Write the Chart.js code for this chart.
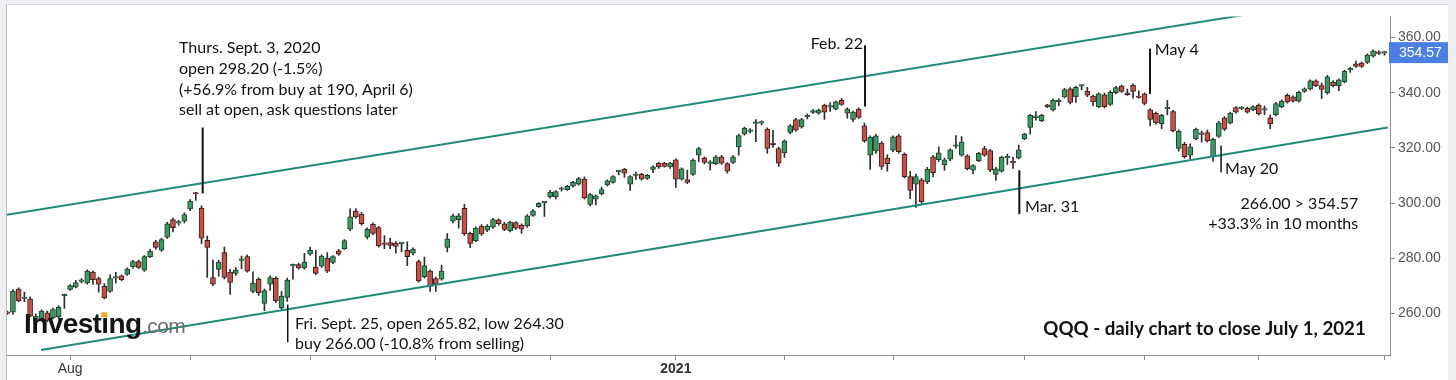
<!DOCTYPE html>
<html><head><meta charset="utf-8">
<script src="https://cdn.jsdelivr.net/npm/chart.js@4.4.1/dist/chart.umd.min.js"></script>
<style>
html,body{margin:0;padding:0;background:#eceef1;width:1456px;height:380px;overflow:hidden}
#wrap{position:absolute;left:6px;top:4px;width:1441px;height:375px;background:#fff;border-left:1px solid #b9bcc0;border-top:1px solid #d6d9dd}
</style></head><body><div id="wrap"><canvas id="c"></canvas></div>
<script>
// ---- DATA (QQQ daily, Jul 17 2020 - Jul 1 2021) ----
const dates = [
 '2020-07-17','2020-07-20','2020-07-21','2020-07-22','2020-07-23','2020-07-24','2020-07-27','2020-07-28','2020-07-29','2020-07-30','2020-07-31',
 '2020-08-03','2020-08-04','2020-08-05','2020-08-06','2020-08-07','2020-08-10','2020-08-11','2020-08-12','2020-08-13','2020-08-14','2020-08-17','2020-08-18','2020-08-19','2020-08-20','2020-08-21','2020-08-24','2020-08-25','2020-08-26','2020-08-27','2020-08-28','2020-08-31',
 '2020-09-01','2020-09-02','2020-09-03','2020-09-04','2020-09-08','2020-09-09','2020-09-10','2020-09-11','2020-09-14','2020-09-15','2020-09-16','2020-09-17','2020-09-18','2020-09-21','2020-09-22','2020-09-23','2020-09-24','2020-09-25','2020-09-28','2020-09-29','2020-09-30',
 '2020-10-01','2020-10-02','2020-10-05','2020-10-06','2020-10-07','2020-10-08','2020-10-09','2020-10-12','2020-10-13','2020-10-14','2020-10-15','2020-10-16','2020-10-19','2020-10-20','2020-10-21','2020-10-22','2020-10-23','2020-10-26','2020-10-27','2020-10-28','2020-10-29','2020-10-30',
 '2020-11-02','2020-11-03','2020-11-04','2020-11-05','2020-11-06','2020-11-09','2020-11-10','2020-11-11','2020-11-12','2020-11-13','2020-11-16','2020-11-17','2020-11-18','2020-11-19','2020-11-20','2020-11-23','2020-11-24','2020-11-25','2020-11-27','2020-11-30',
 '2020-12-01','2020-12-02','2020-12-03','2020-12-04','2020-12-07','2020-12-08','2020-12-09','2020-12-10','2020-12-11','2020-12-14','2020-12-15','2020-12-16','2020-12-17','2020-12-18','2020-12-21','2020-12-22','2020-12-23','2020-12-24','2020-12-28','2020-12-29','2020-12-30','2020-12-31',
 '2021-01-04','2021-01-05','2021-01-06','2021-01-07','2021-01-08','2021-01-11','2021-01-12','2021-01-13','2021-01-14','2021-01-15','2021-01-19','2021-01-20','2021-01-21','2021-01-22','2021-01-25','2021-01-26','2021-01-27','2021-01-28','2021-01-29',
 '2021-02-01','2021-02-02','2021-02-03','2021-02-04','2021-02-05','2021-02-08','2021-02-09','2021-02-10','2021-02-11','2021-02-12','2021-02-16','2021-02-17','2021-02-18','2021-02-19','2021-02-22','2021-02-23','2021-02-24','2021-02-25','2021-02-26',
 '2021-03-01','2021-03-02','2021-03-03','2021-03-04','2021-03-05','2021-03-08','2021-03-09','2021-03-10','2021-03-11','2021-03-12','2021-03-15','2021-03-16','2021-03-17','2021-03-18','2021-03-19','2021-03-22','2021-03-23','2021-03-24','2021-03-25','2021-03-26','2021-03-29','2021-03-30','2021-03-31',
 '2021-04-01','2021-04-05','2021-04-06','2021-04-07','2021-04-08','2021-04-09','2021-04-12','2021-04-13','2021-04-14','2021-04-15','2021-04-16','2021-04-19','2021-04-20','2021-04-21','2021-04-22','2021-04-23','2021-04-26','2021-04-27','2021-04-28','2021-04-29','2021-04-30',
 '2021-05-03','2021-05-04','2021-05-05','2021-05-06','2021-05-07','2021-05-10','2021-05-11','2021-05-12','2021-05-13','2021-05-14','2021-05-17','2021-05-18','2021-05-19','2021-05-20','2021-05-21','2021-05-24','2021-05-25','2021-05-26','2021-05-27','2021-05-28',
 '2021-06-01','2021-06-02','2021-06-03','2021-06-04','2021-06-07','2021-06-08','2021-06-09','2021-06-10','2021-06-11','2021-06-14','2021-06-15','2021-06-16','2021-06-17','2021-06-18','2021-06-21','2021-06-22','2021-06-23','2021-06-24','2021-06-25','2021-06-28','2021-06-29','2021-06-30',
 '2021-07-01'
];
const opens = [
 260.4,260.4,268.8,265.4,265.3,257.2,258.2,260.2,258.4,258.8,266.4,
 268.7,269.5,271.6,271.0,275.0,272.6,269.8,268.0,272.8,273.6,274.1,276.8,278.8,275.7,280.6,285.9,282.9,287.6,294.0,292.7,293.4,
 297.9,303.5,298.2,286.5,273.0,275.9,282.0,275.0,274.5,279.2,280.6,268.0,272.4,263.6,270.6,272.7,262.1,265.82,277.2,277.7,276.5,
 281.5,276.8,277.1,280.0,278.5,282.7,283.5,290.5,297.1,296.0,287.6,292.3,291.1,285.2,285.7,285.5,285.3,282.9,281.8,278.8,273.3,275.3,
 272.6,272.4,283.9,293.4,294.0,298.1,289.0,286.4,291.7,290.2,291.3,293.9,292.5,289.9,292.9,292.0,291.7,295.5,298.7,300.1,
 302.2,302.2,305.0,304.9,306.1,306.9,308.7,299.5,301.4,303.4,306.6,307.5,311.4,312.2,306.9,310.0,310.4,308.9,312.2,314.5,314.5,313.1,
 315.7,308.7,308.5,310.4,317.4,316.3,314.4,314.3,316.8,314.3,314.7,320.4,325.0,326.0,328.9,329.0,326.8,321.8,319.8,
 318.2,325.6,330.3,327.6,331.3,332.9,332.6,335.5,334.8,334.1,337.3,332.6,330.3,334.1,328.0,317.4,318.9,321.8,316.3,
 319.2,324.4,317.7,309.6,306.9,308.4,307.7,316.8,315.7,313.9,315.9,320.6,317.4,317.1,311.9,315.4,319.8,319.0,310.4,311.6,316.4,315.0,316.3,
 323.3,327.4,331.0,329.9,335.6,333.8,336.8,338.5,341.4,338.5,342.4,340.5,338.8,335.0,339.3,335.8,340.0,342.4,340.0,342.8,338.6,
 339.6,333.8,332.6,328.8,334.2,333.2,319.8,321.3,317.4,323.3,325.2,325.6,316.8,324.2,330.9,329.1,334.6,334.3,334.4,333.8,
 335.5,333.7,330.9,332.0,335.0,339.1,338.5,337.0,340.5,341.4,344.3,342.6,340.0,343.9,342.6,344.0,348.3,350.5,350.8,351.0,353.3,354.8,
 354.4
];
const highs = [
 260.8,268.6,269.3,267.7,266.0,259.8,261.3,260.8,261.9,262.8,267.0,
 270.4,272.0,272.6,275.8,275.4,273.2,270.8,274.1,274.9,274.0,276.5,279.2,279.3,281.0,283.2,286.5,287.2,293.0,294.6,293.7,296.5,
 301.3,303.9,299.0,288.0,279.3,279.2,284.0,276.0,276.6,280.8,281.2,275.1,273.0,268.8,273.6,273.3,268.0,272.8,277.9,278.2,281.8,
 284.0,282.9,281.2,282.0,281.0,283.2,286.8,297.9,298.0,296.6,291.0,292.8,291.6,288.2,287.3,286.0,285.7,285.9,283.8,279.3,280.4,275.8,
 273.2,277.5,288.9,296.0,296.2,299.5,289.5,291.4,292.2,292.2,294.5,294.3,293.0,293.5,293.3,292.5,295.8,297.6,300.2,300.6,
 304.6,304.5,305.8,306.4,307.9,309.3,309.5,303.5,303.0,305.8,308.4,310.0,311.8,312.6,310.0,311.2,310.8,310.4,313.5,314.8,314.8,314.9,
 316.0,312.8,312.0,316.0,320.2,316.8,315.4,317.2,317.3,314.7,317.2,325.0,327.6,327.0,330.3,329.8,327.3,326.4,320.3,
 322.9,328.5,330.7,330.7,332.4,333.9,334.1,335.9,336.4,337.0,338.0,334.5,333.4,334.5,329.0,324.4,324.9,322.3,317.5,
 324.4,324.9,318.2,311.5,310.5,309.0,313.0,317.3,320.4,316.3,319.7,324.5,324.1,317.6,314.0,318.4,320.6,319.5,313.0,317.0,317.8,316.7,321.0,
 325.4,332.2,333.2,332.2,335.8,337.7,337.8,341.6,341.9,342.4,342.9,342.0,339.2,340.0,339.9,340.7,342.3,342.8,341.3,343.2,340.7,
 340.0,334.2,333.0,332.2,337.3,333.6,326.6,322.0,321.5,327.2,326.2,326.5,323.6,329.6,331.4,333.0,335.0,335.0,334.8,335.3,
 336.0,335.2,332.0,336.5,337.4,339.6,338.9,340.6,341.8,344.7,344.7,343.5,346.3,344.4,345.1,348.2,349.2,351.5,351.2,354.1,355.6,355.2,
 355.0
];
const lows = [
 259.6,259.6,264.2,264.2,258.8,255.3,257.6,256.9,258.0,257.9,261.8,
 268.3,269.2,271.0,270.6,270.5,267.7,265.2,267.6,271.0,271.8,273.8,276.3,276.2,275.2,280.2,283.3,282.5,287.2,289.5,292.0,292.8,
 297.2,301.0,285.3,273.0,270.0,273.5,272.5,266.9,273.8,276.1,274.9,267.4,266.5,261.0,268.3,264.0,261.2,264.3,272.4,276.0,276.0,
 281.0,274.0,276.7,274.8,278.0,281.0,283.2,290.0,294.5,292.0,287.0,288.5,284.0,283.5,283.5,281.8,282.3,277.3,281.2,271.3,272.8,268.0,
 268.0,272.0,282.3,292.8,290.9,288.3,283.8,286.0,288.3,289.6,290.8,292.0,290.0,289.5,290.4,289.0,291.2,295.2,298.4,295.2,
 301.8,301.5,304.3,304.6,305.8,306.5,301.4,299.0,299.3,303.0,306.2,307.2,310.2,309.4,304.6,308.6,308.3,308.6,311.0,312.6,313.0,312.6,
 305.7,308.3,307.0,310.0,315.0,314.2,311.9,313.9,314.0,310.8,314.3,317.4,324.6,325.4,322.3,328.3,318.0,320.2,313.3,
 316.6,325.2,326.0,327.2,330.5,332.5,332.2,330.3,333.2,333.8,335.4,330.8,329.5,330.7,322.0,312.2,318.0,312.2,311.6,
 318.6,318.1,309.1,301.6,298.4,299.8,307.0,309.5,315.1,311.8,315.4,319.8,317.0,312.0,310.6,315.0,316.9,311.4,308.2,311.2,313.9,312.6,316.0,
 323.0,325.0,330.1,329.5,334.6,333.4,335.3,338.1,336.0,336.5,341.0,338.6,335.3,334.6,334.5,335.4,339.6,340.1,339.0,338.0,338.0,
 335.6,328.0,328.6,327.0,332.0,325.8,318.8,316.3,316.0,322.9,322.1,322.1,315.2,323.8,326.3,328.7,332.6,333.9,332.6,333.5,
 331.9,332.1,327.0,331.6,334.6,336.2,336.6,336.6,340.1,341.0,342.2,337.9,339.5,342.1,340.8,343.6,347.4,349.2,349.2,350.6,352.9,353.8,
 353.6
];
const closes = [
 260.0,268.1,264.6,265.9,259.0,259.0,260.8,257.4,261.4,262.2,266.8,
 270.1,271.2,272.0,275.3,272.2,270.6,265.6,272.6,273.2,272.2,276.1,278.8,276.7,280.6,282.6,283.9,286.8,292.5,291.1,293.1,295.8,
 300.7,303.3,287.3,283.9,270.6,278.6,273.0,271.2,275.7,279.6,275.3,271.0,267.5,268.3,273.0,264.6,266.3,272.1,277.7,276.5,278.6,
 282.9,274.5,280.8,275.3,280.6,281.5,286.4,295.0,295.0,292.5,290.5,289.0,284.5,285.0,284.6,284.3,285.6,280.6,283.3,271.8,277.3,269.8,
 270.6,275.3,287.0,295.4,295.4,288.9,285.4,290.9,288.8,291.7,294.0,292.5,290.4,293.1,290.9,290.5,295.4,297.2,299.9,300.4,
 304.0,304.2,305.2,306.1,307.5,308.9,301.9,303.1,302.6,304.9,308.1,309.6,311.7,310.8,309.6,310.2,308.7,310.1,313.1,313.1,313.3,314.5,
 308.7,312.4,307.5,315.6,319.8,314.7,314.6,316.8,314.5,311.6,316.8,324.5,327.2,326.3,329.2,329.3,319.8,321.2,314.5,
 322.5,328.0,326.4,330.3,331.6,333.5,333.7,333.0,335.1,336.7,335.8,334.1,333.0,331.1,322.5,323.9,324.4,313.3,314.3,
 324.0,318.6,309.6,304.6,309.6,300.5,312.2,311.0,318.2,315.7,319.3,321.0,322.1,312.4,313.6,318.0,317.4,311.9,312.4,316.6,316.8,314.6,319.3,
 325.0,331.8,331.3,331.8,334.9,337.3,337.2,341.2,336.5,342.0,342.7,339.1,336.7,339.6,335.0,340.2,341.9,340.5,339.3,340.5,338.3,
 336.1,330.3,329.1,331.8,334.6,326.2,326.0,316.8,320.4,326.8,324.9,322.5,323.1,329.1,326.8,332.6,333.0,334.6,333.0,335.0,
 332.3,334.0,328.8,336.1,337.0,336.7,337.0,340.2,341.4,344.3,342.6,341.2,345.8,342.6,344.7,347.8,348.6,349.6,349.6,353.7,355.2,354.3,
 354.57
];
const monthTickIdx = [11, 32, 53, 75, 95, 117, 136, 155, 178, 199, 219, 241];
const monthTickLabels = ['Aug', '', '', '', '', '2021', '', '', '', '', '', ''];
const yTicks = [260, 280, 300, 320, 340, 360];
const upperChannel = [{x: -0.04, y: 295.74}, {x: 216.6, y: 368.3}];
const lowerChannel = [{x: 5.92, y: 246.7}, {x: 241.6, y: 327.4}];
const lastPrice = 354.57;

// annotation anchors in data space (index, price)
const markers = [
  {i: 34.2, from: 303.5, to: 327.4, w: 2},
  {i: 49.08, from: 263.2, to: 249.5, w: 1.5},
  {i: 150.1, from: 335.0, to: 357.2, w: 2},
  {i: 177.1, from: 311.9, to: 296.0, w: 2},
  {i: 199.96, from: 339.6, to: 356.0, w: 2},
  {i: 212.4, from: 320.9, to: 311.2, w: 1.5}
];
const notes = [
  {i: 30.06, v: 354.3, lh: 20.7, align: 'left', bold: false, lines: ['Thurs. Sept. 3, 2020', 'open 298.20 (-1.5%)', '(+56.9% from buy at 190, April 6)', 'sell at open, ask questions later']},
  {i: 50.36, v: 254.4, lh: 20.5, align: 'left', bold: false, lines: ['Fri. Sept. 25, open 265.82, low 264.30', 'buy 266.00 (-10.8% from selling)']},
  {i: 140.6, v: 356.0, lh: 20, align: 'left', bold: false, lines: ['Feb. 22']},
  {i: 178.1, v: 296.7, lh: 20, align: 'left', bold: false, lines: ['Mar. 31']},
  {i: 200.8, v: 353.7, lh: 20, align: 'left', bold: false, lines: ['May 4']},
  {i: 213.1, v: 310.4, lh: 20, align: 'left', bold: false, lines: ['May 20']},
  {i: 236.4, v: 297.9, lh: 20, align: 'right', bold: false, lines: ['266.00 > 354.57', '+33.3% in 10 months']},
  {i: 181.3, v: 252.2, lh: 20, align: 'left', bold: true, lines: ['QQQ - daily chart to close July 1, 2021']}
];

// ---- CHART ----
const UP = '#3b9a63', DOWN = '#c5524a', UPB = '#1f3d2b', DOWNB = '#3e1b19';
const wickData = dates.map((d, i) => ({x: i, y: [lows[i], highs[i]]}));
const bodyData = dates.map((d, i) => ({x: i, y: [opens[i], closes[i]]}));
const isUp = i => closes[i] >= opens[i];
const AXIS = '#8c8c8c';
const FONT = '"Liberation Sans", Arial, sans-serif';
const NOTEFONT = 'Lato, "Open Sans", sans-serif';

const overlay = {
  id: 'overlay',
  afterDraw(chart) {
    const {ctx, scales: {x, y}, chartArea: ca} = chart;
    ctx.save();
    // marker lines
    ctx.strokeStyle = '#111';
    markers.forEach(m => {
      const px = x.getPixelForValue(m.i);
      ctx.lineWidth = m.w;
      ctx.beginPath();
      ctx.moveTo(px, y.getPixelForValue(m.from));
      ctx.lineTo(px, y.getPixelForValue(m.to));
      ctx.stroke();
    });
    // notes
    ctx.fillStyle = '#111';
    ctx.textBaseline = 'alphabetic';
    notes.forEach(n => {
      ctx.font = (n.bold ? 'bold 18.7px ' : '16px ') + NOTEFONT;
      ctx.textAlign = n.align;
      const px = x.getPixelForValue(n.i);
      const py = y.getPixelForValue(n.v);
      n.lines.forEach((t, k) => ctx.fillText(t, px, py + k * n.lh));
    });
    // Investing.com logo
    const lx = ca.left + 17, ly = ca.bottom - 21.7;
    ctx.textAlign = 'left';
    ctx.font = 'bold 28px ' + FONT;
    try { ctx.letterSpacing = '-0.6px'; } catch (e) {}
    ctx.fillStyle = '#141414';
    ctx.fillText('Investing', lx, ly);
    const wInv = ctx.measureText('Investing').width;
    const wPre = ctx.measureText('Invest').width;
    const wI = ctx.measureText('i').width;
    ctx.fillStyle = '#f5a623';
    ctx.fillRect(lx + wPre + wI / 2 - 3.5, ly - 21, 6, 5);
    ctx.font = '21px ' + FONT;
    try { ctx.letterSpacing = '-0.6px'; } catch (e) {}
    ctx.fillStyle = '#6b6b6b';
    ctx.fillText('.com', lx + wInv + 0.5, ly);
    try { ctx.letterSpacing = '0px'; } catch (e) {}
    // last price box
    const py = y.getPixelForValue(lastPrice);
    ctx.fillStyle = '#4b7fe3';
    ctx.fillRect(ca.right - 1, py - 10.5, chart.width - ca.right + 1, 21);
    ctx.fillStyle = '#ffffff';
    ctx.font = '14px ' + FONT;
    ctx.textBaseline = 'middle';
    ctx.fillText(lastPrice.toFixed(2), ca.right + 9, py + 0.5);
    ctx.restore();
  }
};

new Chart(document.getElementById('c'), {
  type: 'bar',
  data: {
    datasets: [
      {type: 'line', data: upperChannel, borderColor: '#1f8a7c', borderWidth: 2, pointRadius: 0, tension: 0, order: 0},
      {type: 'line', data: lowerChannel, borderColor: '#1f8a7c', borderWidth: 2, pointRadius: 0, tension: 0, order: 0},
      {type: 'bar', data: wickData, grouped: false, barThickness: 1, backgroundColor: '#2e2e2e', borderWidth: 0, order: 2},
      {type: 'bar', data: bodyData, grouped: false, barThickness: 5, minBarLength: 1.5,
        backgroundColor: c => isUp(c.dataIndex) ? UP : DOWN,
        borderColor: c => isUp(c.dataIndex) ? UPB : DOWNB,
        borderWidth: 1, borderSkipped: false, order: 1}
    ]
  },
  options: {
    responsive: true,
    maintainAspectRatio: false,
    animation: false,
    events: [],
    layout: {padding: 0},
    plugins: {legend: {display: false}, tooltip: {enabled: false}, title: {display: false}},
    scales: {
      x: {
        type: 'linear', min: -0.04, max: 241.96, offset: false,
        afterBuildTicks: s => { s.ticks = monthTickIdx.map(v => ({value: v})); },
        afterFit: s => { s.height = 25; },
        ticks: {
          autoSkip: false, maxRotation: 0, padding: 1, color: '#333',
          font: c => ({family: FONT, size: 14, weight: (c.tick && c.tick.label === '2021') ? 'bold' : 'normal'}),
          callback: (v, i) => monthTickLabels[i]
        },
        grid: {drawOnChartArea: false, drawTicks: true, tickLength: 5, color: AXIS, offset: false},
        border: {display: true, color: AXIS, width: 1}
      },
      y: {
        position: 'right', min: 244.9, max: 367.7, beginAtZero: false,
        afterBuildTicks: s => { s.ticks = yTicks.map(v => ({value: v})); },
        afterFit: s => { s.width = 58; },
        ticks: {color: '#555', padding: 3, font: {family: FONT, size: 14}, callback: v => Number(v).toFixed(2)},
        grid: {drawOnChartArea: false, drawTicks: true, tickLength: 5, color: AXIS},
        border: {display: true, color: AXIS, width: 1}
      }
    }
  },
  plugins: [overlay]
});
</script>
</body></html>
